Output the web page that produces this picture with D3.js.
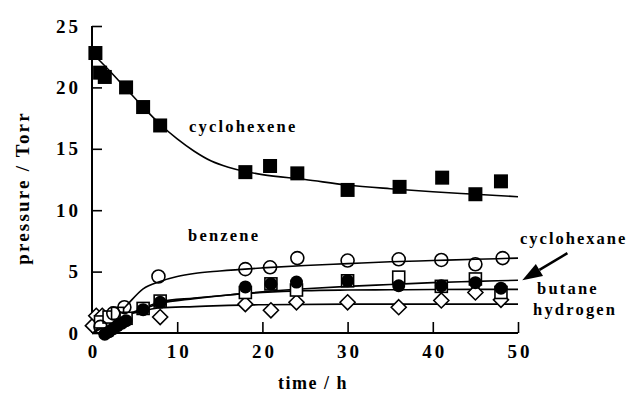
<!DOCTYPE html>
<html>
<head>
<meta charset="utf-8">
<script src="https://cdn.jsdelivr.net/npm/d3@7"></script>
<style>
  html, body { margin: 0; padding: 0; background: #fff; }
  svg { display: block; }
  text { font-family: "Liberation Serif", "DejaVu Serif", serif; font-weight: bold; fill: #000; }
</style>
</head>
<body>
<svg id="chart" width="628" height="397"></svg>
<script>
// ---- data ----
const xTicks = [0, 10, 20, 30, 40, 50];
const yTicks = [0, 5, 10, 15, 20, 25];

const cyclohexenePts = [[0.4,22.8],[0.95,21.2],[1.5,20.85],[4,20.0],[6,18.4],[8,16.9],[18,13.1],[20.9,13.6],[24.1,13.0],[30,11.65],[36.1,11.9],[41.1,12.65],[45,11.3],[48,12.35]];
const benzenePts = [[1,0.5],[2.5,1.6],[3.8,2.1],[7.8,4.6],[18,5.2],[20.9,5.35],[24.1,6.1],[30,5.9],[36,6.0],[41,5.95],[45,5.6],[48.2,6.1]];
const cyclohexanePts = [[1,0.9],[2,1.3],[3,1.6],[4,1.2],[6,2.0],[8,2.6],[18,3.3],[21,4.0],[24,3.5],[30,4.25],[36,4.55],[41,3.8],[45,4.4],[48,3.3]];
const butanePts = [[1.5,-0.1],[2,0.1],[2.5,0.35],[3,0.6],[3.5,0.8],[4,1.0],[6,1.9],[8,2.5],[18,3.75],[21,4.0],[24,4.15],[30,4.25],[36,3.85],[41,3.85],[45,4.1],[48,3.65]];
const hydrogenPts = [[0.1,0.6],[0.5,1.4],[1.2,1.4],[2,1.0],[3,0.8],[8,1.3],[18,2.35],[21,1.85],[24,2.5],[30,2.5],[36,2.1],[41,2.65],[45,3.3],[48,2.7]];

// fitted curves
const cyclohexeneFit = [[0,22.8],[2,21.4],[4,19.9],[6,18.4],[8,17.0],[10,15.8],[12,14.8],[14,14.0],[16,13.5],[18,13.15],[20,12.9],[25,12.5],[30,12.05],[35,11.75],[40,11.5],[45,11.3],[50,11.1]];
const benzeneFit = [[0,0.0],[2,0.8],[4,2.2],[6,3.6],[8,4.2],[10,4.6],[12,4.85],[15,5.05],[20,5.3],[25,5.5],[30,5.65],[35,5.8],[40,5.9],[45,6.0],[50,6.1]];
const cyclohexaneFit = [[0,0.3],[2,0.9],[4,1.5],[6,2.0],[8,2.55],[12,2.85],[16,3.1],[20,3.35],[25,3.6],[30,3.8],[35,3.95],[40,4.1],[45,4.2],[50,4.3]];
const butaneFit = [[0,0.0],[2,0.7],[4,1.4],[6,1.95],[8,2.4],[12,2.8],[16,3.1],[20,3.3],[25,3.45],[30,3.5],[35,3.52],[40,3.54],[45,3.55],[50,3.55]];
const hydrogenFit = [[0,0.8],[2,1.2],[4,1.5],[6,1.8],[8,2.05],[12,2.15],[16,2.25],[20,2.3],[30,2.35],[40,2.35],[50,2.35]];

// ---- drawing ----
const svg = d3.select("#chart");
const x = d3.scaleLinear().domain([0, 50]).range([92, 518]);
const y = d3.scaleLinear().domain([0, 25]).range([333, 26]);

const line = d3.line().x(d => x(d[0])).y(d => y(d[1])).curve(d3.curveMonotoneX);

// axes
const gx = svg.append("g").attr("transform", `translate(0,${y(0)})`);
gx.call(d3.axisBottom(x).tickValues(d3.range(0, 51, 2)).tickSize(-6).tickFormat(""));
gx.call(d3.axisBottom(x).tickValues(xTicks).tickSize(-11).tickPadding(12).tickFormat(d3.format("d")));
const gy = svg.append("g").attr("transform", `translate(${x(0)},0)`);
gy.call(d3.axisLeft(y).tickValues(d3.range(0, 26, 1)).tickSize(-6).tickFormat(""));
gy.call(d3.axisLeft(y).tickValues(yTicks).tickSize(-10).tickPadding(14).tickFormat(d3.format("d")));

[gx, gy].forEach(g => {
  g.selectAll("path.domain").attr("stroke", "#000").attr("stroke-width", 2);
  g.selectAll(".tick line").attr("stroke", "#000").attr("stroke-width", 1.6);
  g.selectAll(".tick text").style("font-family", '"Liberation Serif", serif')
    .style("font-weight", "bold").style("font-size", "19px").style("letter-spacing", "3px").attr("fill", "#000");
});
gx.selectAll("path.domain").attr("d", `M${x(0)},0H${x(50)}`);
gy.selectAll("path.domain").attr("d", `M0,${y(0)}V${y(25)}`);
gx.selectAll(".tick text").attr("dx", "1.5px");
gy.selectAll(".tick text").attr("dx", "3px");

// curves
[cyclohexeneFit, benzeneFit, cyclohexaneFit, butaneFit, hydrogenFit].forEach(f => {
  svg.append("path").attr("d", line(f)).attr("fill", "none").attr("stroke", "#000").attr("stroke-width", 1.6);
});

// markers
const dia = 7.5;
svg.append("g").selectAll("path").data(hydrogenPts).join("path")
  .attr("d", d => `M${x(d[0])},${y(d[1]) - dia}L${x(d[0]) + dia},${y(d[1])}L${x(d[0])},${y(d[1]) + dia}L${x(d[0]) - dia},${y(d[1])}Z`)
  .attr("fill", "#fff").attr("stroke", "#000").attr("stroke-width", 1.6);

svg.append("g").selectAll("rect").data(cyclohexanePts).join("rect")
  .attr("x", d => x(d[0]) - 6).attr("y", d => y(d[1]) - 6).attr("width", 12).attr("height", 12)
  .attr("fill", "#fff").attr("stroke", "#000").attr("stroke-width", 1.6);

svg.append("g").selectAll("circle").data(butanePts).join("circle")
  .attr("cx", d => x(d[0])).attr("cy", d => y(d[1])).attr("r", 6.5)
  .attr("fill", "#000");

svg.append("g").selectAll("circle").data(benzenePts).join("circle")
  .attr("cx", d => x(d[0])).attr("cy", d => y(d[1])).attr("r", 6.5)
  .attr("fill", "none").attr("stroke", "#000").attr("stroke-width", 1.6);

svg.append("g").selectAll("rect").data(cyclohexenePts).join("rect")
  .attr("x", d => x(d[0]) - 7).attr("y", d => y(d[1]) - 7).attr("width", 14).attr("height", 14)
  .attr("fill", "#000");

// labels
function label(txt, px, py, size, ls, anchor) {
  svg.append("text").attr("x", px).attr("y", py).attr("text-anchor", anchor || "start")
    .style("font-size", size + "px").style("letter-spacing", ls + "px").text(txt);
}
label("cyclohexene", 189, 132, 16.5, 2.2);
label("benzene", 188, 241, 16.5, 2.2);
label("cyclohexane", 520, 244, 16.5, 2.0);
label("butane", 537, 294, 16.5, 2.2);
label("hydrogen", 533, 315, 16.5, 2.2);
label("time / h", 313, 389, 18, 1.5, "middle");

svg.append("text").attr("transform", `translate(29,${188}) rotate(-90)`).attr("text-anchor", "middle")
  .style("font-size", "19px").style("letter-spacing", "2.2px").text("pressure / Torr");

// arrow to cyclohexane curve
const tip = [x(50.5), y(4.3)];
const tail = [x(55.8), y(6.5)];
const ang = Math.atan2(tip[1] - tail[1], tip[0] - tail[0]);
const hl = 20, hw = 7;
const bx = tip[0] - hl * Math.cos(ang), by = tip[1] - hl * Math.sin(ang);
svg.append("line").attr("x1", tail[0]).attr("y1", tail[1]).attr("x2", bx).attr("y2", by)
  .attr("stroke", "#000").attr("stroke-width", 2.5);
svg.append("path")
  .attr("d", `M${tip[0]},${tip[1]}L${bx + hw * Math.sin(ang)},${by - hw * Math.cos(ang)}L${bx - hw * Math.sin(ang)},${by + hw * Math.cos(ang)}Z`)
  .attr("fill", "#000");
</script>
</body>
</html>
